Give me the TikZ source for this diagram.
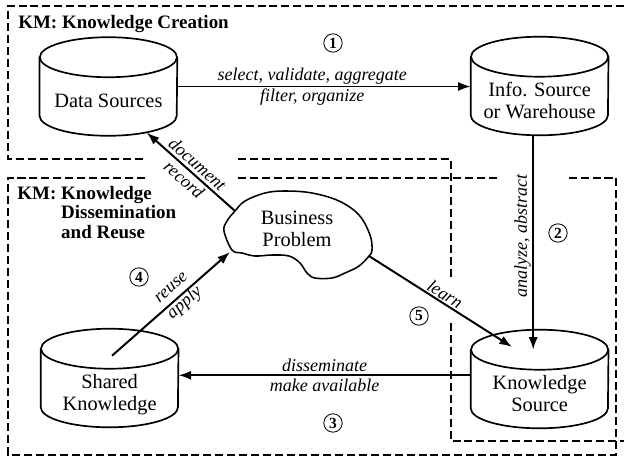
\documentclass[tikz,border=0pt]{standalone}
\usepackage{fontspec}
\setmainfont{Liberation Serif}
\usepackage{tikz}
\usetikzlibrary{arrows.meta}
\tikzset{>={Latex[length=9pt,width=6.5pt]}}
\tikzset{
    store/.style={minimum width=3.43cm, minimum height=2.45cm, inner sep=0pt,
        font=\fontsize{14.5}{15.6}\selectfont},
    storeline/.style={line width=1.2pt},
    flow/.style={->, line width=1.4pt},
    flowlabel/.style={align=center, inner sep=1pt, font=\fontsize{12.8}{14.5}\selectfont\itshape},
    stepno/.style={draw, circle, line width=0.6pt, inner sep=0pt, minimum size=0.46cm,
        font=\fontsize{11}{11}\selectfont\bfseries},
    zone/.style={line width=1.2pt, dash pattern=on 5.7pt off 2.8pt},
    zonetitle/.style={anchor=base west, inner sep=0pt, font=\fontsize{13.5}{13.9}\selectfont\bfseries}
}
\newcommand{\storetext}[1]{\raisebox{-0.55cm}[0pt][0pt]{\begin{tabular}{@{}c@{}}#1\end{tabular}}}

\begin{document}
\begin{tikzpicture}
            \useasboundingbox (0, 0) rectangle (15.6, -11.425);
            \draw[zone] (15.6, -0.15) -- (0.2, -0.15) -- (0.2, -3.975) -- (3.625, -3.975);
            \draw[zone] (5.95, -3.975) -- (11.275, -3.975) -- (11.275, -7.0);
            \draw[zone] (11.275, -8.075) -- (11.275, -11.025) -- (15.6, -11.025);
            \draw[zone] (3.625, -4.45) -- (0.2, -4.45) -- (0.2, -11.375) -- (15.4, -11.375) -- (15.4, -4.45) -- (14.125, -4.45);
            \draw[zone] (12.425, -4.45) -- (5.95, -4.45);
            \node[zonetitle] (creation) at (0.45, -0.7) {KM: Knowledge Creation};
            \node[zonetitle] (dissem) at (0.43, -4.975) {KM: \begin{tabular}[t]{@{}l@{}}Knowledge\\Dissemination\\and Reuse\end{tabular}};
            \node[store] (ds) at (2.71, -2.1625) {\storetext{Data Sources}};
            \node[store] (info) at (13.49, -2.15) {\storetext{Info. Source\\or Warehouse}};
            \node[store] (ks) at (13.49, -9.475) {\storetext{Knowledge\\Source}};
            \node[store] (sk) at (2.74, -9.45) {\storetext{Shared\\Knowledge}};
            \foreach \n in {ds, info, ks, sk} {
                \draw[storeline] ([yshift=-0.5cm]\n.north) ellipse [x radius=1.715cm, y radius=0.5cm];
                \draw[storeline] ([yshift=-0.5cm]\n.north west) -- ([yshift=0.5cm]\n.south west)
                    arc [start angle=180, end angle=360, x radius=1.715cm, y radius=0.5cm] -- ([yshift=-0.5cm]\n.north east);
            }
            \draw[line width=1.1pt] plot[smooth cycle, tension=0.6] coordinates {(5.875, -5.275) (6.125, -5.025) (6.625, -4.825) (7.125, -4.775) (7.8, -4.825) (8.475, -5.025) (8.975, -5.375) (9.25, -5.875) (9.3, -6.25) (9.225, -6.4) (8.975, -6.65) (8.625, -6.825) (8.3, -6.95) (7.875, -6.95) (7.675, -6.825) (7.5, -6.575) (7.225, -6.4) (6.8, -6.375) (6.375, -6.4) (6.05, -6.325) (5.8, -6.25) (5.6, -5.775) (5.675, -5.525)};
            \node[align=center, font=\fontsize{14.5}{15.6}\selectfont] (bp) at (7.425, -5.725) {Business\\Problem};
            \coordinate (bp-nw) at (5.875, -5.275);
            \coordinate (bp-sw) at (5.75, -6.3);
            \coordinate (bp-e) at (9.225, -6.4);
            \path (ks.south) ++(0, 1.325) coordinate (ks-mid);
            \draw[flow] (ds.east) -- (ds.east -| info.west) node[pos=0.46, flowlabel] {select, validate, aggregate\\filter, organize};
            \draw[flow] ([xshift=-0.16cm]info.south) -- ([shift={(-0.16, -0.5)}]ks.north) node[pos=0.47, rotate=90, above, flowlabel] {analyze, abstract};
            \draw[flow] (bp-e) -- ([shift={(-0.69, -0.43)}]ks.north) node[midway, above, sloped, flowlabel] {learn};
            \draw[flow] (ks-mid -| ks.west) -- (ks-mid -| sk.east) node[midway, flowlabel] {disseminate\\make available};
            \draw[flow] ([shift={(0.06, -0.675)}]sk.north) -- (bp-sw) node[pos=0.57, sloped, flowlabel] {reuse\\apply};
            \draw[flow] (bp-nw) -- ([shift={(0.96, 0.08)}]ds.south) node[midway, sloped, flowlabel] {document\\record};
            \node[stepno] (s1) at (8.325, -1.075) {1};
            \node[stepno] (s2) at (13.95, -5.825) {2};
            \node[stepno] (s3) at (8.325, -10.575) {3};
            \node[stepno] (s4) at (3.475, -6.925) {4};
            \node[stepno] (s5) at (10.475, -7.9) {5};
        \end{tikzpicture}
\end{document}
